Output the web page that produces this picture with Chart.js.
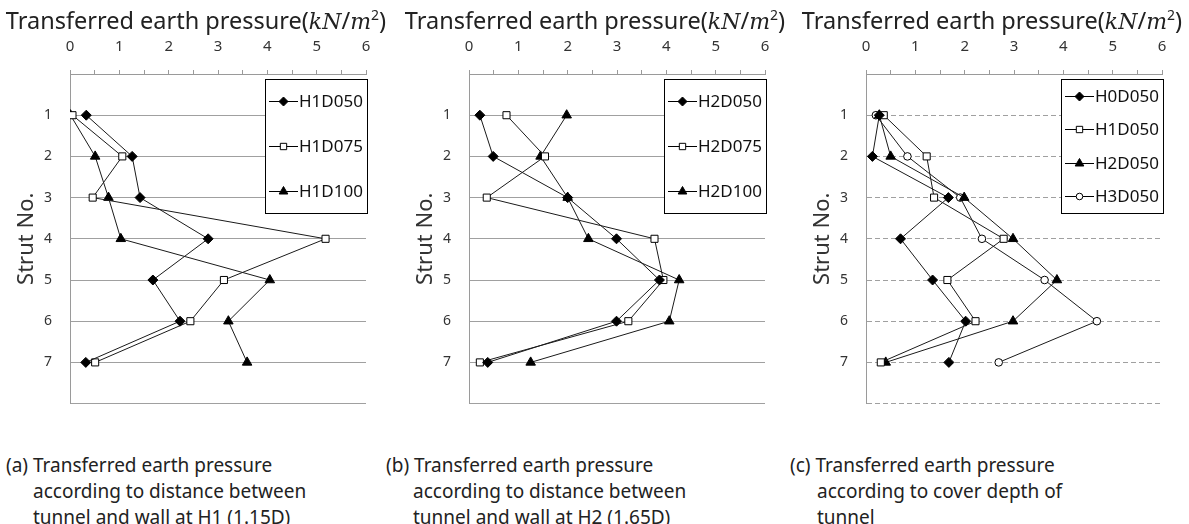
<!DOCTYPE html>
<html>
<head>
<meta charset="utf-8">
<title>Transferred earth pressure by strut</title>
<script src="https://cdn.jsdelivr.net/npm/chart.js@4/dist/chart.umd.min.js"></script>
<style>
  body { margin: 0; width: 1189px; height: 524px; background: #fff; overflow: hidden; position: relative;
         font-family: 'Noto Sans', 'Open Sans', sans-serif; color: #222; }
  .panel { position: absolute; top: 0; width: 398px; height: 430px; }
  .axis-title { position: absolute; top: -3px; left: -3px; width: 398px; text-align: center; font-size: 23.5px;
                white-space: nowrap; z-index: 2; line-height: 36px; }
  .axis-title i { font-family: 'DejaVu Serif', 'Liberation Serif', serif; font-size: 22px; }
  .axis-title sup { font-size: 14px; }
  .caption { position: absolute; top: 452px; font-size: 19px; line-height: 26px; white-space: nowrap;
             padding-left: 27px; text-indent: -27px; }
</style>
</head>
<body>
<div class="panel" style="left:0px"><div class="axis-title">Transferred earth pressure(<i>kN</i>/<i>m</i><sup>2</sup>)</div><canvas id="chartA" width="398" height="430"></canvas></div>
<div class="panel" style="left:399px"><div class="axis-title">Transferred earth pressure(<i>kN</i>/<i>m</i><sup>2</sup>)</div><canvas id="chartB" width="398" height="430"></canvas></div>
<div class="panel" style="left:796px"><div class="axis-title">Transferred earth pressure(<i>kN</i>/<i>m</i><sup>2</sup>)</div><canvas id="chartC" width="398" height="430"></canvas></div>

<div class="caption" style="left:6px">(a) Transferred earth pressure<br>according to distance between<br>tunnel and wall at H1 (1.15D)</div>
<div class="caption" style="left:386px">(b) Transferred earth pressure<br>according to distance between<br>tunnel and wall at H2 (1.65D)</div>
<div class="caption" style="left:790px">(c) Transferred earth pressure<br>according to cover depth of<br>tunnel</div>

<script>
// strut numbers (rows) and tick labels
const struts = [1, 2, 3, 4, 5, 6, 7];
const strutLabels = ['1', '2', '3', '4', '5', '6', '7'];
const pressureTicks = ['0', '1', '2', '3', '4', '5', '6'];

// (a) H1, distance between tunnel and wall
const namesA = ['H1D050', 'H1D075', 'H1D100'];
const a_H1D050 = [0.33, 1.26, 1.42, 2.80, 1.68, 2.23, 0.32];
const a_H1D075 = [0.05, 1.06, 0.46, 5.18, 3.12, 2.44, 0.51];
const a_H1D100 = [0.01, 0.51, 0.78, 1.03, 4.05, 3.21, 3.59];

// (b) H2, distance between tunnel and wall
const namesB = ['H2D050', 'H2D075', 'H2D100'];
const b_H2D050 = [0.22, 0.49, 2.00, 2.99, 3.86, 2.99, 0.38];
const b_H2D075 = [0.76, 1.54, 0.36, 3.76, 3.94, 3.23, 0.22];
const b_H2D100 = [1.98, 1.45, 2.00, 2.42, 4.26, 4.06, 1.25];

// (c) cover depth
const namesC = ['H0D050', 'H1D050', 'H2D050', 'H3D050'];
const c_H0D050 = [0.27, 0.13, 1.67, 0.70, 1.35, 2.02, 1.68];
const c_H1D050 = [0.36, 1.23, 1.38, 2.79, 1.65, 2.22, 0.30];
const c_H2D050 = [0.27, 0.50, 1.99, 2.98, 3.87, 2.98, 0.40];
const c_H3D050 = [0.20, 0.84, 1.91, 2.35, 3.62, 4.68, 2.69];

const markerStyles = {
    diamond:  { pointStyle: 'rectRot',  radius: 5,   fill: '#000' },
    square:   { pointStyle: 'rect',     radius: 5,   fill: '#fff' },
    triangle: { pointStyle: 'triangle', radius: 5.5, fill: '#000' },
    circle:   { pointStyle: 'circle',   radius: 3.8, fill: '#fff' }
};

Chart.defaults.font.family = "'Noto Sans', 'Open Sans', sans-serif";
Chart.defaults.color = '#333';

// legend drawn as a framed box inside the plot, like the original
const boxLegend = {
    id: 'boxLegend',
    afterDraw(chart) {
        const { ctx, chartArea } = chart;
        const sets = chart.data.datasets;
        const w = 102, h = 134;
        const left = Math.round(chartArea.right + 1 - w);
        const top = Math.round(chartArea.top + 5);
        ctx.save();
        ctx.fillStyle = '#fff';
        ctx.fillRect(left, top, w, h);
        ctx.strokeStyle = '#000';
        ctx.lineWidth = 1;
        ctx.strokeRect(left + 0.5, top + 0.5, w, h);
        const step = h / sets.length;
        ctx.font = "17px 'Noto Sans', sans-serif";
        ctx.textBaseline = 'middle';
        ctx.textAlign = 'left';
        sets.forEach((ds, i) => {
            const y = Math.round(top + step * (i + 0.5)) + 0.5;
            ctx.strokeStyle = '#000';
            ctx.beginPath();
            ctx.moveTo(left + 4, y);
            ctx.lineTo(left + 33, y);
            ctx.stroke();
            ctx.fillStyle = ds.pointBackgroundColor;
            Chart.helpers.drawPoint(ctx, { pointStyle: ds.pointStyle, radius: ds.pointRadius - 0.5, rotation: 0, borderWidth: 1 }, left + 18.5, y);
            ctx.fillStyle = '#111';
            ctx.fillText(ds.label, left + 34, y + 1);
        });
        ctx.restore();
    }
};

function buildDatasets(names, series, markers) {
    return names.map((name, i) => {
        const m = markerStyles[markers[i]];
        return {
            label: name,
            data: series[i].map((v, k) => ({ x: v, y: struts[k] })),
            showLine: true,
            borderColor: '#1a1a1a',
            borderWidth: 1,
            pointStyle: m.pointStyle,
            pointRadius: m.radius,
            pointHoverRadius: m.radius,
            pointBackgroundColor: m.fill,
            pointBorderColor: '#000',
            pointBorderWidth: 1,
            tension: 0
        };
    });
}

function makeChart(id, names, series, markers, dashed) {
    const ctx = document.getElementById(id).getContext('2d');
    return new Chart(ctx, {
        type: 'scatter',
        data: { datasets: buildDatasets(names, series, markers) },
        options: {
            responsive: false,
            animation: false,
            layout: { padding: { left: 0, top: 0, right: 32, bottom: 7 } },
            plugins: {
                legend: { display: false },
                tooltip: { enabled: false }
            },
            scales: {
                x: {
                    type: 'linear',
                    position: 'top',
                    min: 0,
                    max: 6,
                    afterFit: (scale) => { scale.height = 74; },
                    ticks: {
                        stepSize: 0.5,
                        autoSkip: false,
                        maxRotation: 0,
                        padding: 14,
                        font: { size: 15 },
                        color: '#333',
                        callback: (v) => Number.isInteger(v) ? pressureTicks[v] : ''
                    },
                    grid: { drawOnChartArea: false, drawTicks: true, tickLength: 4, tickColor: '#9a9a9a' },
                    border: { display: true, color: '#9a9a9a', width: 1 }
                },
                y: {
                    type: 'linear',
                    reverse: true,
                    min: 0,
                    max: 8,
                    afterFit: (scale) => { scale.width = 70; },
                    ticks: {
                        stepSize: 1,
                        padding: 18,
                        font: { size: 14 },
                        color: '#333',
                        callback: (v) => (v >= 1 && v <= 7) ? strutLabels[v - 1] : ''
                    },
                    grid: {
                        drawTicks: false,
                        color: (c) => (c.tick && c.tick.value === 0) ? 'rgba(0,0,0,0)' : '#a0a0a0',
                        lineWidth: 1
                    },
                    border: { display: true, color: '#9a9a9a', width: 1, dash: dashed ? [5, 3] : [] },
                    title: {
                        display: true,
                        text: 'Strut No.',
                        font: { size: 22 },
                        color: '#333',
                        padding: { top: 14, bottom: 0 }
                    }
                }
            }
        },
        plugins: [boxLegend]
    });
}

makeChart('chartA', namesA, [a_H1D050, a_H1D075, a_H1D100], ['diamond', 'square', 'triangle'], false);
makeChart('chartB', namesB, [b_H2D050, b_H2D075, b_H2D100], ['diamond', 'square', 'triangle'], false);
makeChart('chartC', namesC, [c_H0D050, c_H1D050, c_H2D050, c_H3D050], ['diamond', 'square', 'triangle', 'circle'], true);
</script>
</body>
</html>
